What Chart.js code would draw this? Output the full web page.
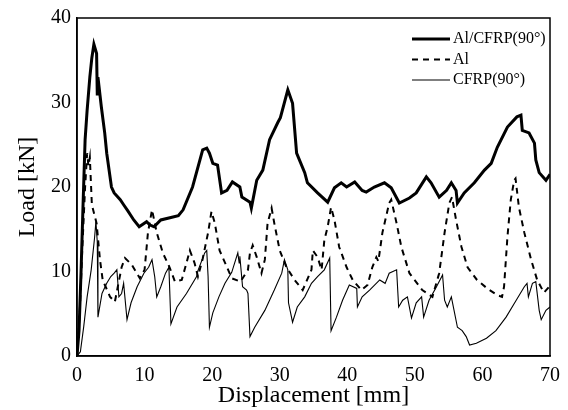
<!DOCTYPE html>
<html>
<head>
<meta charset="utf-8">
<script src="https://cdn.jsdelivr.net/npm/chart.js@4/dist/chart.umd.min.js"></script>
<style>
  html, body { margin: 0; padding: 0; background: #fff; }
  #wrap { width: 568px; height: 410px; }
</style>
</head>
<body>
<div id="wrap"><canvas id="loadChart" width="568" height="410"></canvas></div>
<script>
// Load-displacement curves (x in mm, y in kN)
const hybridX = [0, 0.3, 0.6, 0.9, 1.2, 1.5, 1.9, 2.2, 2.5, 2.9, 3.0, 3.1, 3.6, 4.1, 4.4, 5.1, 5.5, 6.4, 6.9, 7.5,
  8.4, 9.2, 10.3, 10.8, 11.4, 12.4, 13.9, 15.0, 15.7, 17.1, 18.6, 19.2, 19.6, 20.1, 20.8, 21.4, 22.2, 23.0, 24.1, 24.4,
  25.6, 25.8, 26.6, 27.5, 28.5, 29.7, 30.1, 31.2, 31.9, 32.5, 33.7, 34.1, 35.6, 37.1, 38.1, 39.1, 39.9, 41.1, 42.2, 42.8,
  44.0, 45.5, 46.5, 47.7, 49.2, 50.2, 51.7, 52.4, 53.6, 54.7, 55.4, 56.1, 56.3, 57.3, 58.8, 60.3, 61.3, 62.2, 63.7, 65.1,
  65.7, 65.9, 66.9, 67.7, 67.9, 68.4, 69.4, 70];
const hybridY = [0, 3, 10, 18, 25.6, 29.1, 33, 35.3, 36.9, 35.8, 31.0, 33.0, 29.5, 26.4, 24.0, 20.0, 19.3, 18.5, 17.9, 17.2,
  16.1, 15.3, 15.9, 15.5, 15.3, 16.1, 16.4, 16.6, 17.3, 20.0, 24.4, 24.6, 24.0, 22.8, 22.6, 19.3, 19.6, 20.6, 20.0, 18.8,
  18.2, 17.5, 20.8, 22.0, 25.6, 27.6, 28.2, 31.5, 29.9, 24.0, 21.7, 20.5, 19.3, 18.2, 19.9, 20.5, 20.0, 20.6, 19.6, 19.4,
  20.0, 20.5, 19.9, 18.1, 18.7, 19.3, 21.2, 20.5, 18.8, 19.6, 20.5, 19.6, 18.1, 19.3, 20.5, 22.0, 22.8, 24.7, 27.1, 28.3,
  28.5, 26.7, 26.4, 25.2, 23.2, 21.7, 20.8, 21.5];

const alX = [0, 0.4, 0.8, 1.2, 1.5, 1.7, 1.9, 2.2, 2.9, 3.4, 3.8, 4.9, 5.6, 6.6, 7.1, 8.1, 9.3, 10.0, 10.5, 11.1,
  11.8, 12.7, 13.7, 14.5, 15.5, 16.2, 16.7, 17.4, 17.9, 18.6, 19.4, 19.9, 20.4, 21.1, 22.2, 22.9, 24.2, 25.3, 25.6, 26.0,
  26.6, 27.3, 27.8, 28.2, 28.8, 29.2, 30.0, 31.0, 32.2, 33.4, 34.7, 34.9, 35.6, 36.2, 36.6, 37.1, 37.6, 38.1, 38.8, 39.9,
  40.8, 42.1, 43.0, 43.7, 44.3, 44.6, 45.2, 46.2, 46.5, 47.3, 48.0, 49.2, 51.1, 52.6, 53.6, 54.4, 55.1, 55.5, 56.1, 56.9,
  57.8, 59.2, 60.7, 62.2, 62.9, 63.2, 63.7, 64.2, 64.7, 64.9, 65.4, 66.2, 67.2, 68.1, 69.1, 70];
const alY = [0, 5, 13, 20, 24.0, 22.5, 23.5, 17.9, 15.7, 11.4, 9.0, 7.0, 6.4, 10.5, 11.6, 10.8, 9.2, 10.2, 14.6, 17.3,
  14.6, 12.2, 10.5, 8.8, 9.0, 11.0, 12.5, 11.0, 9.4, 11.5, 14.6, 17.1, 15.7, 12.5, 10.5, 9.2, 8.8, 10.2, 12.2, 13.1,
  11.7, 9.8, 11.4, 15.7, 17.5, 15.7, 12.5, 10.5, 9.0, 7.8, 10.2, 12.5, 11.7, 10.2, 13.7, 15.3, 17.6, 16.1, 12.9, 10.5,
  9.0, 7.8, 8.4, 10.5, 11.7, 11.2, 14.6, 18.1, 18.5, 15.7, 12.9, 9.8, 7.8, 7.0, 9.8, 14.6, 18.1, 18.8, 16.1, 12.9,
  10.5, 9.0, 8.0, 7.2, 7.0, 8.2, 14.1, 18.5, 20.8, 21.0, 17.6, 14.6, 11.4, 9.0, 7.5, 8.3];

const cfrpX = [0, 0.5, 1.0, 1.5, 2.1, 2.6, 2.8, 3.0, 3.1, 3.7, 4.4, 5.0, 5.5, 5.9, 6.2, 6.6, 6.9, 7.4, 8.0, 8.9,
  9.9, 10.6, 11.1, 11.5, 11.8, 12.4, 13.1, 13.6, 13.9, 14.8, 16.2, 17.7, 17.9, 18.9, 19.2, 19.4, 19.6, 20.1, 21.0, 21.9,
  22.9, 23.8, 24.0, 24.1, 24.5, 25.1, 25.3, 25.6, 26.3, 27.8, 29.2, 30.3, 30.7, 31.2, 31.3, 31.9, 32.6, 33.7, 34.7, 35.6,
  36.6, 37.4, 37.6, 38.4, 39.3, 40.3, 41.4, 41.5, 42.2, 43.3, 44.8, 45.6, 46.2, 47.3, 47.6, 48.2, 48.9, 49.5, 50.2, 51.0,
  51.3, 52.1, 53.2, 54.1, 54.4, 54.8, 55.4, 55.8, 56.3, 57.0, 57.6, 58.1, 59.1, 60.6, 62.0, 63.5, 65.0, 66.2, 66.6, 66.8,
  67.4, 67.9, 68.4, 68.7, 69.4, 70];
const cfrpY = [0, 0.5, 3.5, 7.0, 10.2, 14.0, 15.9, 13.5, 4.6, 7.4, 8.6, 9.4, 9.8, 10.2, 7.0, 7.4, 8.6, 4.3, 6.3, 8.2,
  9.8, 10.5, 11.4, 9.4, 7.0, 8.2, 9.8, 10.5, 3.8, 5.8, 7.4, 9.4, 10.1, 12.2, 12.5, 9.4, 3.4, 5.1, 7.0, 8.6,
  9.9, 12.2, 11.0, 11.8, 8.2, 7.8, 7.4, 2.3, 3.4, 5.4, 7.8, 9.8, 11.4, 10.2, 6.3, 4.0, 5.8, 7.0, 8.6, 9.4,
  10.2, 11.6, 3.0, 4.6, 6.6, 8.4, 8.0, 5.8, 7.0, 7.8, 9.0, 8.6, 9.8, 10.2, 5.8, 6.6, 7.0, 4.5, 6.3, 7.0,
  4.6, 6.6, 8.2, 9.6, 6.6, 5.8, 7.0, 5.4, 3.4, 3.0, 2.3, 1.3, 1.5, 2.1, 3.0, 4.6, 6.6, 8.2, 8.6, 7.0,
  8.6, 8.8, 5.4, 4.3, 5.4, 5.8];

const seriesLabels = ['Al/CFRP(90°)', 'Al', 'CFRP(90°)'];
const xTicks = [0, 10, 20, 30, 40, 50, 60, 70];
const yTicks = [0, 10, 20, 30, 40];

const serif = "'Liberation Serif', 'Times New Roman', serif";

function toPoints(xs, ys) {
    return xs.map((x, i) => ({ x: x, y: ys[i] }));
}

// box round the plot area
const framePlugin = {
    id: 'frame',
    afterDatasetsDraw(chart) {
        const a = chart.chartArea;
        const ctx = chart.ctx;
        ctx.save();
        ctx.strokeStyle = '#000';
        ctx.lineWidth = 1.5;
        ctx.strokeRect(a.left, a.top, a.right - a.left, a.bottom - a.top);
        ctx.restore();
    }
};

// legend in the upper right corner, lines drawn with each dataset's own style
const cornerLegend = {
    id: 'cornerLegend',
    afterDraw(chart) {
        const ctx = chart.ctx;
        const a = chart.chartArea;
        const x0 = a.right - 138;
        let y = a.top + 21;
        ctx.save();
        ctx.font = '16px ' + serif;
        ctx.textBaseline = 'middle';
        ctx.fillStyle = '#000';
        chart.data.datasets.forEach(ds => {
            ctx.beginPath();
            ctx.setLineDash(ds.borderDash || []);
            ctx.lineWidth = ds.borderWidth;
            ctx.strokeStyle = ds.borderColor;
            ctx.moveTo(x0, y);
            ctx.lineTo(x0 + 38, y);
            ctx.stroke();
            ctx.setLineDash([]);
            ctx.fillText(ds.label, x0 + 41, y);
            y += 20.5;
        });
        ctx.restore();
    }
};

const ctx = document.getElementById('loadChart').getContext('2d');
const loadChart = new Chart(ctx, {
    type: 'line',
    data: {
        datasets: [{
            label: seriesLabels[0],
            data: toPoints(hybridX, hybridY),
            borderColor: '#000',
            borderWidth: 3,
            pointRadius: 0,
            tension: 0
        }, {
            label: seriesLabels[1],
            data: toPoints(alX, alY),
            borderColor: '#000',
            borderWidth: 2,
            borderDash: [6, 5],
            pointRadius: 0,
            tension: 0
        }, {
            label: seriesLabels[2],
            data: toPoints(cfrpX, cfrpY),
            borderColor: '#000',
            borderWidth: 1.1,
            pointRadius: 0,
            tension: 0
        }]
    },
    options: {
        responsive: false,
        animation: false,
        layout: { padding: { left: 0, top: 18, right: 17, bottom: 0 } },
        plugins: {
            legend: { display: false },
            tooltip: { enabled: false }
        },
        scales: {
            x: {
                type: 'linear',
                min: 0,
                max: 70,
                afterFit: s => { s.height = 54; },
                afterBuildTicks: s => { s.ticks = xTicks.map(v => ({ value: v })); },
                grid: { display: false, drawTicks: false },
                border: { display: true, color: '#000', width: 1.5 },
                ticks: { color: '#000', padding: 8, font: { family: serif, size: 20 } },
                title: {
                    display: true,
                    text: 'Displacement [mm]',
                    color: '#000',
                    font: { family: serif, size: 24 },
                    padding: { top: 0, bottom: 0 }
                }
            },
            y: {
                min: 0,
                max: 40,
                afterFit: s => { s.width = 77; },
                afterBuildTicks: s => { s.ticks = yTicks.map(v => ({ value: v })); },
                grid: { display: false, drawTicks: false },
                border: { display: true, color: '#000', width: 1.5 },
                ticks: { color: '#000', padding: 6, font: { family: serif, size: 20 } },
                title: {
                    display: true,
                    text: 'Load [kN]',
                    color: '#000',
                    font: { family: serif, size: 24 },
                    padding: { top: 13, bottom: 0 }
                }
            }
        }
    },
    plugins: [framePlugin, cornerLegend]
});
</script>
</body>
</html>
